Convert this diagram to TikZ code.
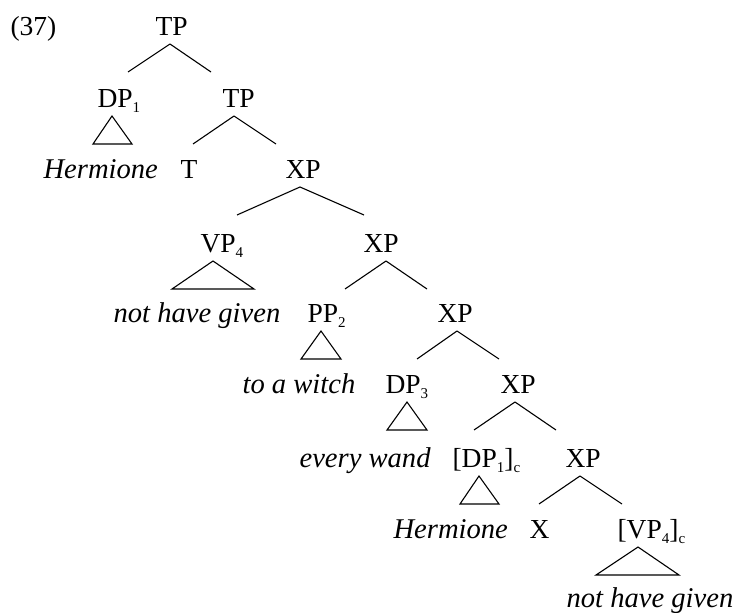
\documentclass[tikz,border=0pt]{standalone}
\usepackage{fontspec}
\setmainfont{Liberation Serif}
\newcommand{\sbs}[1]{\raisebox{-5pt}{\fontsize{15}{15}\selectfont #1}}
\newcommand{\brch}[4]{\draw ([shift={(#2,9)}]#1.base west) -- +(-#3,28) ([shift={(#2,9)}]#1.base west) -- +(#4,28);}
\newcommand{\trg}[4]{\draw ([shift={(#2,9)}]#1.base west) -- +(-#3,28) -- +(#4,28) -- cycle;}
\begin{document}
\begin{tikzpicture}[x=1pt,y=-1pt,
  lab/.style={anchor=base west,inner sep=0pt,font=\fontsize{27.5}{30}\selectfont},
  it/.style={lab,font=\fontsize{28.6}{30}\selectfont\itshape},
  line width=1.1pt]
\useasboundingbox (0,0) rectangle (740,613);
\node[lab] (ex) at (10,35) {(37)};
\node[lab] (tp0) at (155,35) {TP};
\node[lab] (dp1) at (97,107) {DP\sbs{1}};
\node[lab] (tp1) at (222,107) {TP};
\node[it] (her1) at (43,178) {Hermione};
\node[lab] (t) at (180,178) {T};
\node[lab] (xp1) at (285,178) {XP};
\node[lab] (vp4) at (200,252) {VP\sbs{4}};
\node[lab] (xp2) at (363,252) {XP};
\node[it] (nhg1) at (113,322) {not have given};
\node[lab] (pp2) at (307,322) {PP\sbs{2}};
\node[lab] (xp3) at (437,322) {XP};
\node[it] (taw) at (242,393) {to a witch};
\node[lab] (dp3) at (385,393) {DP\sbs{3}};
\node[lab] (xp4) at (500,393) {XP};
\node[it] (ew) at (299,467) {every wand};
\node[lab] (dp1c) at (452,467) {[DP\sbs{1}]\sbs{c}};
\node[lab] (xp5) at (565,467) {XP};
\node[it] (her2) at (393,538) {Hermione};
\node[lab] (x) at (529,538) {X};
\node[lab] (vp4c) at (617,538) {[VP\sbs{4}]\sbs{c}};
\node[it] (nhg2) at (566,607) {not have given};
\brch{tp0}{15}{42}{41}
\brch{tp1}{12}{41}{42}
\brch{xp1}{15}{63}{64}
\brch{xp2}{23}{41}{41}
\brch{xp3}{20}{40}{42}
\brch{xp4}{15}{41}{41}
\brch{xp5}{15}{41}{42}
\trg{dp1}{15}{19}{20}
\trg{vp4}{13}{41}{41}
\trg{pp2}{14}{20}{20}
\trg{dp3}{22}{20}{20}
\trg{dp1c}{27}{19}{20}
\trg{vp4c}{21}{42}{41}
\end{tikzpicture}
\end{document}
